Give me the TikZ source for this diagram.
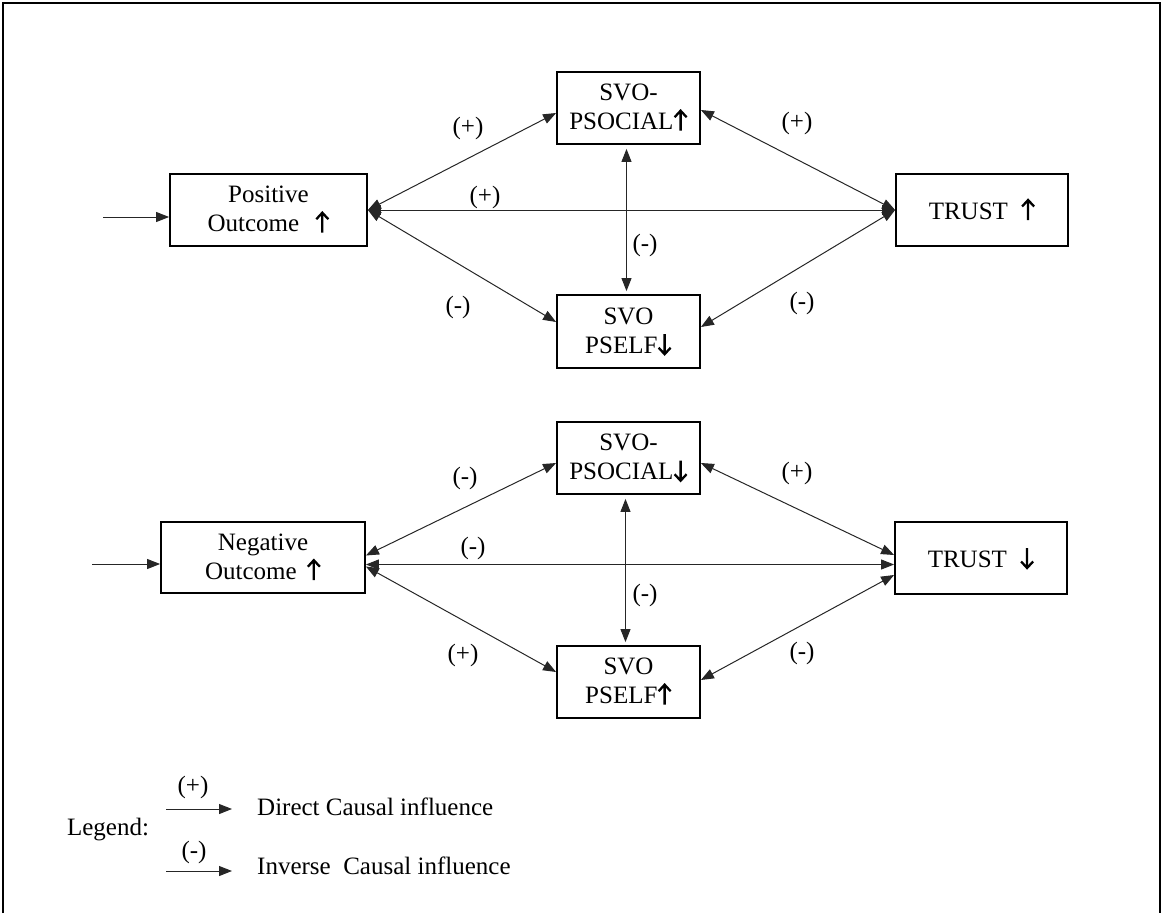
\documentclass[tikz,border=0pt]{standalone}
\usepackage{fontspec}
\setmainfont{Liberation Serif}
\usetikzlibrary{arrows.meta,calc}
% bold open-headed arrows used inside the box labels
\newcommand{\upar}{\tikz[x=1pt,y=1pt,baseline=0pt]{\draw[black,line width=2.3pt,line join=miter] (0,-1)--(0,19) (-6,12.5)--(0,19)--(6,12.5);}}
\newcommand{\dnar}{\tikz[x=1pt,y=1pt,baseline=0pt]{\draw[black,line width=2.3pt,line join=miter] (0,19)--(0,-1) (-6,5.5)--(0,-1)--(6,5.5);}}
\begin{document}
\begin{tikzpicture}[x=1pt,y=-1pt,
  font=\fontsize{25}{29}\selectfont,
  box/.style={draw=black,line width=1.8pt,align=center,inner sep=0pt},
  link/.style={line width=1pt,draw=black!85,
    {Triangle[length=13pt,width=10pt]}-{Triangle[length=13pt,width=10pt]}},
  feed/.style={line width=1pt,draw=black!85,-{Triangle[length=13pt,width=10pt]}},
  sign/.style={inner sep=0pt}]
\useasboundingbox (0,0) rectangle (1162,913);
% outer frame
\draw[line width=2pt] (2.5,913) -- (2.5,2.5) -- (1160,2.5) -- (1160,913);

% ---------- positive outcome ----------
\node[box,minimum width=197pt,minimum height=72pt] (po) at (268.5,210) {Positive\\Outcome\hspace{16pt}\upar};
\node[box,minimum width=143pt,minimum height=72pt] (sst) at (628.5,108) {SVO-\\PSOCIAL\upar};
\node[box,minimum width=143pt,minimum height=73pt] (sse) at (628.5,331.5) {SVO\\PSELF\dnar};
\node[box,minimum width=172pt,minimum height=72pt] (tt) at (982,210) {TRUST\hspace{13pt}\upar};
\coordinate (in1) at (103,217);
\draw[feed] (in1) -- (in1 -| po.west);

\draw[link] (po.east) -- ([yshift=-5pt]sst.west);
\draw[link] (po.east) -- ([yshift=9.5pt]sse.west);
\draw[link] (po.east) -- (tt.west);
\draw[link] (tt.west) -- ([yshift=-2pt]sst.east);
\draw[link] (tt.west) -- ([yshift=4.5pt]sse.east);
\draw[link] ([yshift=-4pt,xshift=-2pt]sst.south) -- ([yshift=3pt,xshift=-2pt]sse.north);

\node[sign] (p1) at (468,128) {(+)};
\node[sign] (p2) at (485,197) {(+)};
\node[sign] (p3) at (458,307) {(-)};
\node[sign] (p4) at (797,123) {(+)};
\node[sign] (p5) at (802,303) {(-)};
\node[sign] (p6) at (645,245) {(-)};

% ---------- negative outcome ----------
\node[box,minimum width=204pt,minimum height=71pt] (no) at (263,557.5) {Negative\\Outcome\hspace{10pt}\upar};
\node[box,minimum width=143pt,minimum height=72pt] (sb) at (628.5,458) {SVO-\\PSOCIAL\dnar};
\node[box,minimum width=143pt,minimum height=72pt] (sbe) at (628.5,682) {SVO\\PSELF\upar};
\node[box,minimum width=172pt,minimum height=72pt] (tb) at (981,558) {TRUST\hspace{13pt}\dnar};
\coordinate (in2) at (92,564);
\draw[feed] (in2) -- (in2 -| no.west);

\draw[link] ([yshift=2pt]no.east) -- ([yshift=-5pt]sb.west);
\draw[link] ([yshift=-7pt]no.east) -- ([yshift=-6.5pt]tb.west);
\draw[link] ([yshift=-9pt]no.east) -- ([yshift=10pt]sbe.west);
\draw[link] ([yshift=3pt]tb.west) -- ([yshift=-5pt]sb.east);
\draw[link] ([yshift=-17pt]tb.west) -- ([yshift=2pt]sbe.east);
\draw[link] ([yshift=-4pt,xshift=-3pt]sb.south) -- ([yshift=3pt,xshift=-3pt]sbe.north);

\node[sign] (n1) at (465,478) {(-)};
\node[sign] (n2) at (473,548) {(-)};
\node[sign] (n3) at (463,655) {(+)};
\node[sign] (n4) at (797,473) {(+)};
\node[sign] (n5) at (802,653) {(-)};
\node[sign] (n6) at (645,595) {(-)};

% ---------- legend ----------
\node[sign] (leg) at (108,830) {Legend:};
\coordinate (l1a) at (166,809);
\coordinate (l1b) at (232,809);
\coordinate (l2a) at (166,871);
\coordinate (l2b) at (232,871);
\draw[feed] (l1a) -- (l1b);
\draw[feed] (l2a) -- (l2b);
\node[sign] (lp) at (193,787) {(+)};
\node[sign] (lm) at (194,852) {(-)};
\node[sign,anchor=west] (ld) at (257,807) {Direct Causal influence};
\node[sign,anchor=west] (li) at (257,866) {Inverse\ \ Causal influence};
\end{tikzpicture}
\end{document}
